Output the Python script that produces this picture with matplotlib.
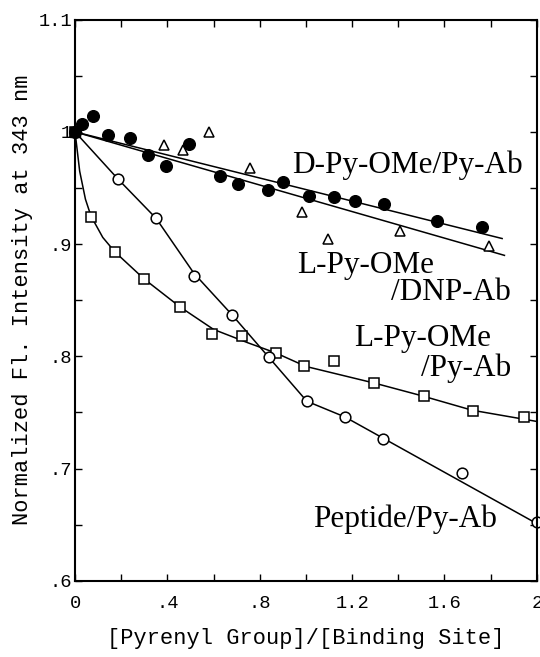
import matplotlib
matplotlib.use("Agg")
import matplotlib.pyplot as plt
from matplotlib.ticker import MultipleLocator, FixedLocator

# dati
# D-Py-OMe/Py-Ab (cerchi pieni)
x_dpy = [0, 0.03, 0.078, 0.143, 0.238, 0.316, 0.394, 0.494, 0.628, 0.706,
         0.835, 0.900, 1.013, 1.121, 1.212, 1.338, 1.567, 1.762]
y_dpy = [1.0, 1.007, 1.014, 0.997, 0.995, 0.979, 0.970, 0.989, 0.961, 0.954,
         0.948, 0.955, 0.943, 0.942, 0.938, 0.936, 0.921, 0.915]
fit_dpy_x = [0, 1.85]
fit_dpy_y = [1.0, 0.905]

# L-Py-OMe/DNP-Ab (triangoli)
x_dnp = [0, 0.385, 0.467, 0.580, 0.758, 0.983, 1.095, 1.407, 1.792]
y_dnp = [1.0, 0.988, 0.984, 1.000, 0.968, 0.929, 0.905, 0.912, 0.898]
fit_dnp_x = [0, 1.86]
fit_dnp_y = [1.0, 0.890]

# L-Py-OMe/Py-Ab (quadrati)
x_lpy = [0, 0.069, 0.173, 0.299, 0.455, 0.593, 0.723, 0.870, 0.991, 1.121,
         1.294, 1.511, 1.723, 1.944]
y_lpy = [1.0, 0.924, 0.893, 0.869, 0.844, 0.820, 0.818, 0.803, 0.791, 0.796,
         0.776, 0.765, 0.751, 0.746]
fit_lpy_x = [0, 0.02, 0.045, 0.069, 0.12, 0.173, 0.299, 0.455, 0.60, 0.75,
             0.87, 1.0, 1.3, 1.5, 1.72, 2.0]
fit_lpy_y = [1.0, 0.965, 0.940, 0.925, 0.906, 0.893, 0.869, 0.844, 0.824,
             0.812, 0.803, 0.791, 0.776, 0.765, 0.752, 0.742]

# Peptide/Py-Ab (cerchi vuoti)
x_pep = [0, 0.186, 0.351, 0.515, 0.680, 0.840, 1.004, 1.169, 1.333, 1.675, 2.0]
y_pep = [1.0, 0.958, 0.923, 0.872, 0.837, 0.799, 0.760, 0.746, 0.726, 0.696, 0.652]
fit_pep_x = [0, 0.186, 0.351, 0.515, 0.680, 0.840, 1.004, 1.169, 2.0]
fit_pep_y = [1.0, 0.958, 0.923, 0.874, 0.837, 0.799, 0.760, 0.746, 0.651]

mono = "Liberation Mono"
serif = "Liberation Serif"

f1 = plt.figure(figsize=(5.4, 6.57), dpi=100)
ax = f1.add_axes([0.139, 0.116, 0.855, 0.854])

lw = 1.1
ms = 7.2
ax.plot(fit_dpy_x, fit_dpy_y, '-', c='black', lw=lw)
ax.plot(fit_dnp_x, fit_dnp_y, '-', c='black', lw=lw)
ax.plot(fit_lpy_x, fit_lpy_y, '-', c='black', lw=lw)
ax.plot(fit_pep_x, fit_pep_y, '-', c='black', lw=lw)

ax.plot(x_lpy, y_lpy, 's', ms=ms, mfc='white', mec='black', mew=1.1, clip_on=False)
ax.plot(x_pep, y_pep, 'o', ms=ms + 0.5, mfc='white', mec='black', mew=1.1, clip_on=False)
ax.plot(x_dnp, y_dnp, '^', ms=ms - 0.5, mfc='white', mec='black', mew=1.1, clip_on=False)
ax.plot(x_dpy, y_dpy, 'o', ms=ms + 1.2, mfc='black', mec='black', clip_on=False)
ax.plot([0], [1.0], 's', ms=ms, mfc='black', mec='black', clip_on=False)

# etichette delle serie
fs = 22.5
ax.text(0.94, 0.970, "D-Py-OMe/Py-Ab", family=serif, fontsize=fs, va='center', ha='left')
ax.text(0.96, 0.881, "L-Py-OMe", family=serif, fontsize=fs, va='center', ha='left')
ax.text(1.37, 0.857, "/DNP-Ab", family=serif, fontsize=fs, va='center', ha='left')
ax.text(1.21, 0.816, "L-Py-OMe", family=serif, fontsize=fs, va='center', ha='left')
ax.text(1.50, 0.789, "/Py-Ab", family=serif, fontsize=fs, va='center', ha='left')
ax.text(1.03, 0.655, "Peptide/Py-Ab", family=serif, fontsize=fs, va='center', ha='left')

ax.set_xlim(0, 2)
ax.set_ylim(0.6, 1.1)

ax.xaxis.set_major_locator(FixedLocator([0, 0.4, 0.8, 1.2, 1.6, 2.0]))
ax.xaxis.set_minor_locator(MultipleLocator(0.2))
ax.yaxis.set_major_locator(FixedLocator([0.6, 0.7, 0.8, 0.9, 1.0, 1.1]))
ax.yaxis.set_minor_locator(MultipleLocator(0.05))
ax.set_xticklabels(["0", ".4", ".8", "1.2", "1.6", "2"])
ax.set_yticklabels([".6", ".7", ".8", ".9", "1", "1.1"])
ax.tick_params(which='both', direction='in', top=True, right=True, length=5, width=1)
ax.tick_params(axis='x', labelsize=13.5, pad=10)
ax.tick_params(axis='y', labelsize=13.5, pad=2)
for lab in ax.get_xticklabels() + ax.get_yticklabels():
    lab.set_family(mono)

for sp in ax.spines.values():
    sp.set_linewidth(1.5)

ax.set_xlabel("[Pyrenyl Group]/[Binding Site]", family=mono, fontsize=15.8, labelpad=12)
ax.set_ylabel("Normalized Fl. Intensity at 343 nm", family=mono, fontsize=15.8, labelpad=4)

f1.savefig("out.png", dpi=100)
